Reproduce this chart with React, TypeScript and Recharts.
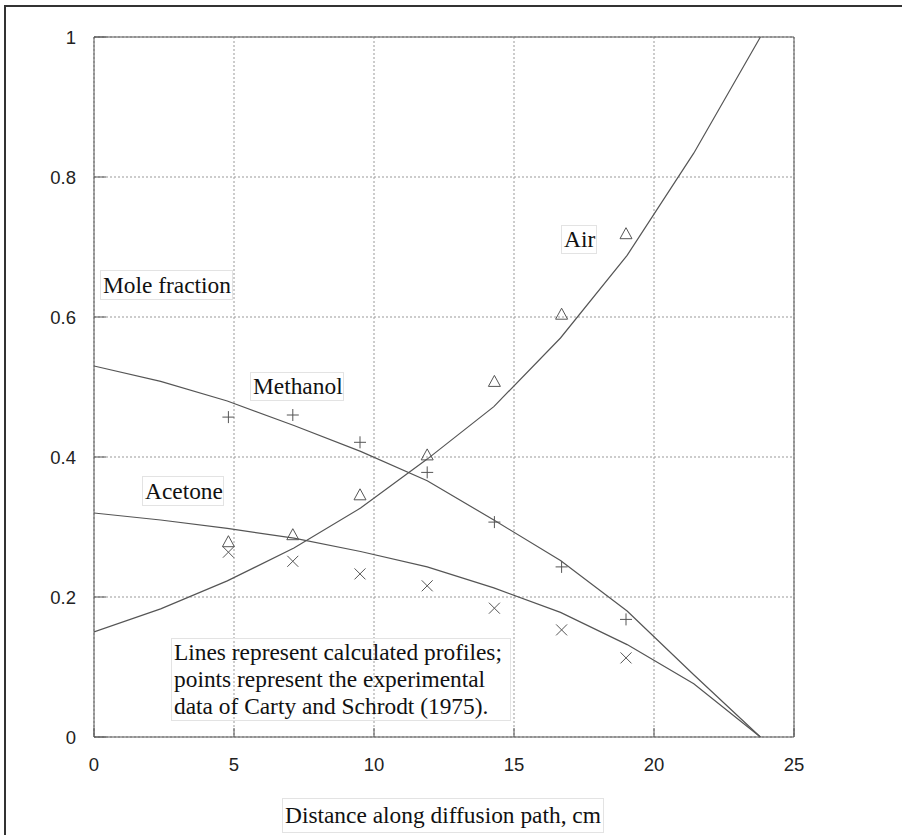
import {
  CartesianGrid,
  ComposedChart,
  Line,
  Scatter,
  XAxis,
  YAxis,
} from 'recharts'

// calculated profile nodes (cm)
const profileX = [0, 2.38, 4.76, 7.14, 9.52, 11.9, 14.28, 16.66, 19.04, 21.42, 23.8]
const methanolCalc = [0.53, 0.508, 0.48, 0.445, 0.408, 0.366, 0.31, 0.252, 0.18, 0.089, 0]
const acetoneCalc = [0.32, 0.31, 0.298, 0.284, 0.265, 0.243, 0.213, 0.178, 0.132, 0.076, 0]
const airCalc = [0.15, 0.183, 0.223, 0.27, 0.327, 0.397, 0.472, 0.57, 0.688, 0.834, 1.0]

// Carty and Schrodt (1975) measurements
const expX = [4.8, 7.1, 9.5, 11.9, 14.3, 16.7, 19.0]
const methanolExp = [0.457, 0.46, 0.421, 0.378, 0.307, 0.243, 0.168]
const acetoneExp = [0.264, 0.251, 0.233, 0.216, 0.184, 0.153, 0.113]
const airExp = [0.279, 0.289, 0.346, 0.403, 0.508, 0.604, 0.719]

const xTicks = [0, 5, 10, 15, 20, 25]
const yTicks = [0, 0.2, 0.4, 0.6, 0.8, 1]

const toPoints = (xs: number[], ys: number[]) => xs.map((x, i) => ({ x, y: ys[i] }))

const INK = '#555'
const serif = '"Liberation Serif", "Times New Roman", serif'
const sans = '"Liberation Sans", Arial, sans-serif'

function XTick({ x, payload }: any) {
  return (
    <text x={x} y={771} textAnchor="middle" fontSize={18.5} fontFamily={sans} fill="#222">
      {String(payload.value)}
    </text>
  )
}

function YTick({ y, payload }: any) {
  return (
    <text x={76} y={y + 6.6} textAnchor="end" fontSize={18.5} fontFamily={sans} fill="#222">
      {String(payload.value)}
    </text>
  )
}

function Plus({ cx, cy }: any) {
  const r = 6
  return (
    <path d={`M${cx - r},${cy}H${cx + r}M${cx},${cy - r}V${cy + r}`} stroke={INK} strokeWidth={1} fill="none" />
  )
}

function Cross({ cx, cy }: any) {
  const r = 5.5
  return (
    <path
      d={`M${cx - r},${cy - r}L${cx + r},${cy + r}M${cx - r},${cy + r}L${cx + r},${cy - r}`}
      stroke={INK}
      strokeWidth={1}
      fill="none"
    />
  )
}

function Triangle({ cx, cy }: any) {
  const w = 6
  return (
    <path
      d={`M${cx},${cy - 6}L${cx + w},${cy + 5}L${cx - w},${cy + 5}Z`}
      stroke={INK}
      strokeWidth={1}
      fill="none"
    />
  )
}

function Note({ left, top, width, height, children, lh }: any) {
  return (
    <div
      style={{
        position: 'absolute',
        left,
        top,
        width,
        height,
        border: '1px solid #e3e3e3',
        boxSizing: 'border-box',
        fontFamily: serif,
        fontSize: 23.4,
        lineHeight: `${lh ?? height - 2}px`,
        color: '#111',
        paddingLeft: 2,
        whiteSpace: 'nowrap',
      }}
    >
      {children}
    </div>
  )
}

export default function App() {
  return (
    <div style={{ position: 'absolute', left: 0, top: 0, width: 902, height: 835, background: '#fff' }}>
      <div
        style={{
          position: 'absolute',
          left: 4,
          top: 5,
          right: 0,
          bottom: 0,
          borderLeft: '2px solid #333',
          borderTop: '2px solid #333',
        }}
      />
      <ComposedChart width={902} height={835} margin={{ top: 36, right: 98, left: 0, bottom: 0 }}>
        <CartesianGrid
          stroke="#999"
          strokeDasharray="2 2"
          horizontalValues={yTicks}
          verticalValues={xTicks}
          xAxisId="bottom"
          yAxisId="left"
        />
        <XAxis
          xAxisId="bottom"
          dataKey="x"
          type="number"
          domain={[0, 25]}
          ticks={xTicks}
          height={98}
          stroke="#555"
          tickSize={-9}
          tickMargin={29}
          tick={<XTick />}
          allowDataOverflow
        />
        <XAxis
          xAxisId="top"
          orientation="top"
          dataKey="x"
          type="number"
          domain={[0, 25]}
          ticks={xTicks}
          height={1}
          stroke="#555"
          tickSize={-9}
          tick={false}
        />
        <YAxis
          yAxisId="left"
          type="number"
          domain={[0, 1]}
          ticks={yTicks}
          width={94}
          stroke="#555"
          tickSize={-12}
          tickMargin={30}
          tick={<YTick />}
        />
        <YAxis
          yAxisId="right"
          orientation="right"
          type="number"
          domain={[0, 1]}
          ticks={yTicks}
          width={10}
          stroke="#555"
          tickSize={-12}
          tick={false}
        />
        <Line
          xAxisId="bottom"
          yAxisId="left"
          data={toPoints(profileX, methanolCalc)}
          dataKey="y"
          type="linear"
          stroke={INK}
          strokeWidth={1.2}
          dot={false}
          isAnimationActive={false}
        />
        <Line
          xAxisId="bottom"
          yAxisId="left"
          data={toPoints(profileX, acetoneCalc)}
          dataKey="y"
          type="linear"
          stroke={INK}
          strokeWidth={1.2}
          dot={false}
          isAnimationActive={false}
        />
        <Line
          xAxisId="bottom"
          yAxisId="left"
          data={toPoints(profileX, airCalc)}
          dataKey="y"
          type="linear"
          stroke={INK}
          strokeWidth={1.2}
          dot={false}
          isAnimationActive={false}
        />
        <Scatter
          xAxisId="bottom"
          yAxisId="left"
          data={toPoints(expX, methanolExp)}
          dataKey="y"
          shape={<Plus />}
          isAnimationActive={false}
        />
        <Scatter
          xAxisId="bottom"
          yAxisId="left"
          data={toPoints(expX, acetoneExp)}
          dataKey="y"
          shape={<Cross />}
          isAnimationActive={false}
        />
        <Scatter
          xAxisId="bottom"
          yAxisId="left"
          data={toPoints(expX, airExp)}
          dataKey="y"
          shape={<Triangle />}
          isAnimationActive={false}
        />
      </ComposedChart>
      <Note left={100} top={270} width={133} height={30}>Mole fraction</Note>
      <Note left={250} top={372} width={94} height={29}>Methanol</Note>
      <Note left={142} top={476} width={82} height={30}>Acetone</Note>
      <Note left={561} top={225} width={36} height={29}>Air</Note>
      <Note left={171} top={638} width={340} height={83} lh={27}>
        Lines represent calculated profiles;
        <br />
        points represent the experimental
        <br />
        data of Carty and Schrodt (1975).
      </Note>
      <Note left={282} top={798} width={322} height={35}>Distance along diffusion path, cm</Note>
    </div>
  )
}
